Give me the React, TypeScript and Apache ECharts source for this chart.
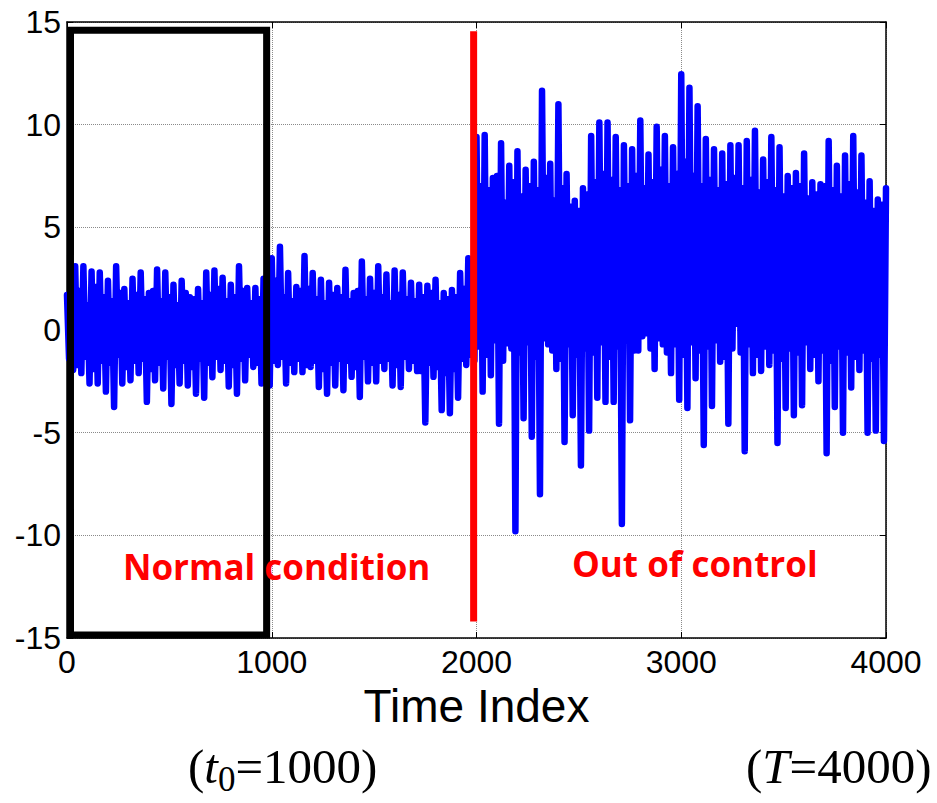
import React, { useEffect, useRef } from "react";
import * as echarts from "echarts";

// ---- Signal -----------------------------------------------------------
// Samples every 10 time units, in blocks of 40:
//   t = 40k      : outer upper excursion (highs)
//   t = 40k + 10 : inner lower value     (coreLows)
//   t = 40k + 20 : inner upper value     (coreHighs)
//   t = 40k + 30 : outer lower excursion (lows)

// Normal condition, t = 0 .. 1960
const normalHighs = [
  1.7, 3.1, 3.1, 2.85, 2.8, 2.4, 3.1, 2.0, 2.5, 2.8,
  1.8, 2.95, 2.8, 2.2, 2.4, 1.6, 2.0, 2.8, 2.9, 2.55,
  2.2, 3.1, 2.05, 2.05, 2.5, 3.5, 4.05, 2.77, 2.1, 3.6,
  2.77, 2.45, 2.3, 2.05, 2.93, 1.8, 3.33, 2.5, 3.1, 2.7,
  2.9, 2.8, 2.3, 2.2, 2.15, 2.45, 1.8, 1.95, 2.77, 3.5,
];
const normalCoreLows = [
  -1.4, -1.7, -1.3, -1.9, -1.5, -1.6, -1.2, -1.8, -1.5, -1.4,
  -1.9, -1.6, -1.3, -1.7, -1.5, -1.8, -1.4, -1.6, -1.3, -1.5,
  -1.7, -1.4, -1.2, -1.6, -1.8, -1.5, -1.3, -1.6, -1.4, -1.7,
  -1.5, -1.9, -1.6, -1.4, -1.5, -1.8, -1.3, -1.6, -1.5, -1.4,
  -1.7, -1.3, -1.5, -2.0, -1.6, -1.8, -2.1, -1.9, -1.4, -1.2,
];
const normalCoreHighs = [
  1.5, 1.9, 1.2, 2.1, 1.6, 1.4, 1.8, 1.3, 1.7, 1.5,
  1.9, 1.4, 1.6, 1.2, 1.8, 1.5, 1.3, 1.7, 2.0, 1.4,
  1.6, 1.9, 1.3, 1.5, 1.8, 2.4, 1.6, 1.4, 1.9, 2.0,
  1.5, 1.3, 1.7, 1.6, 1.4, 1.9, 1.5, 1.8, 1.6, 1.3,
  1.7, 1.5, 1.4, 1.6, 1.8, 1.3, 1.5, 1.6, 2.0, 1.8,
];
const normalLows = [
  -1.95, -2.1, -2.6, -2.6, -3.0, -3.75, -2.6, -2.45, -2.1, -3.5,
  -2.45, -2.85, -3.6, -2.6, -2.7, -3.1, -3.3, -2.3, -1.95, -2.75,
  -3.1, -2.45, -1.8, -2.6, -2.7, -1.7, -2.6, -2.05, -2.05, -1.8,
  -2.77, -3.1, -2.7, -2.93, -2.28, -3.26, -2.5, -2.5, -1.9, -2.7,
  -2.77, -1.9, -2.0, -4.5, -2.28, -3.9, -4.05, -3.3, -1.7, -1.5,
];

// Out of control, t = 2000 .. 4000
const shiftHighs = [
  9.4, 9.5, 7.4, 9.1, 8.0, 8.7, 7.8, 8.2, 11.65, 8.1,
  11.0, 7.6, 6.3, 6.9, 9.45, 10.1, 10.1, 9.4, 9.0, 8.8,
  10.2, 8.55, 9.9, 9.45, 8.9, 12.45, 11.8, 10.9, 9.3, 8.8,
  8.6, 9.0, 9.0, 9.2, 9.7, 8.3, 9.4, 8.9, 7.5, 7.65,
  8.6, 7.2, 7.1, 9.2, 8.0, 8.5, 9.45, 8.5, 7.25, 6.35,
  6.9,
];
const shiftCoreLows = [
  -0.8, -1.2, -0.5, -1.5, -0.9, -1.1, -0.6, -1.3, -0.4, -1.0,
  -1.4, -0.7, -1.2, -0.9, -1.1, -0.6, -1.3, -0.8, -0.5, -1.0,
  -0.3, -0.9, -0.4, -1.1, -0.7, -1.2, -0.6, -1.0, -0.8, -0.5,
  -1.3, -0.9, -1.1, -0.7, -1.2, -0.8, -1.0, -1.4, -0.9, -1.1,
  -0.6, -1.2, -1.0, -1.5, -0.8, -1.1, -1.3, -1.0, -1.4, -1.2,
];
const shiftCoreHighs = [
  7.0, 6.8, 7.5, 6.2, 7.2, 6.5, 7.0, 6.8, 7.4, 6.3,
  6.9, 6.0, 5.8, 6.6, 7.2, 7.6, 7.3, 6.8, 7.0, 7.5,
  6.9, 7.2, 7.8, 7.0, 7.6, 8.2, 7.5, 7.0, 7.3, 6.8,
  7.1, 7.4, 6.9, 7.3, 6.7, 7.2, 6.8, 6.5, 6.9, 7.0,
  6.4, 6.6, 7.0, 6.8, 6.5, 7.1, 6.7, 6.2, 5.8, 6.1,
];
const shiftLows = [
  -3.0, -2.2, -4.56, -0.65, -9.8, -4.3, -5.2, -8.0, -0.7, -1.9,
  -5.45, -4.15, -6.6, -4.9, -3.3, -3.5, -3.5, -9.45, -4.4, -1.0,
  -0.16, -1.9, -0.7, -2.1, -3.4, -3.8, -2.35, -5.6, -3.7, -1.55,
  -4.56, 0.3, -5.9, -2.1, -2.0, -1.7, -5.5, -3.8, -4.15, -3.66,
  -1.9, -2.5, -6.0, -3.75, -5.0, -2.8, -1.95, -5.0, -4.9, -5.4,
];

const BLOCK = 40;

// Axis ticks
const xTicks = { min: 0, max: 4000, interval: 1000 };
const yTicks = { min: -15, max: 15, interval: 5 };

// Annotations (data coordinates)
const trainingBoxT = [17, 975];
const trainingBoxV = [-14.85, 14.6];
const changePointT = 1986;
const changeLineV = [-14.2, 14.55];

function buildSignal(): [number, number][] {
  const highs = [...normalHighs, ...shiftHighs];
  const coreLows = [...normalCoreLows, ...shiftCoreLows];
  const coreHighs = [...normalCoreHighs, ...shiftCoreHighs];
  const lows = [...normalLows, ...shiftLows];
  const q = BLOCK / 4;
  const pts: [number, number][] = [];
  for (let k = 0; k < highs.length; k++) {
    const t0 = k * BLOCK;
    pts.push([t0, highs[k]]);
    if (k < lows.length) {
      pts.push([t0 + q, coreLows[k]]);
      pts.push([t0 + 2 * q, coreHighs[k]]);
      pts.push([t0 + 3 * q, lows[k]]);
    }
  }
  return pts;
}

const SANS = "Liberation Sans, Arial, sans-serif";
const SERIF = "Liberation Serif, Times New Roman, serif";

export default function App() {
  const ref = useRef<HTMLDivElement | null>(null);

  useEffect(() => {
    if (!ref.current) return;
    const chart = echarts.init(ref.current, undefined, { renderer: "svg" });

    const boxPath: [number, number][] = [
      [trainingBoxT[0], trainingBoxV[1]],
      [trainingBoxT[1], trainingBoxV[1]],
      [trainingBoxT[1], trainingBoxV[0]],
      [trainingBoxT[0], trainingBoxV[0]],
      [trainingBoxT[0], trainingBoxV[1]],
    ];
    const redLine: [number, number][] = [
      [changePointT, changeLineV[1]],
      [changePointT, changeLineV[0]],
    ];

    const axisLine = { show: true, onZero: false, lineStyle: { color: "#000", width: 1.5 } };
    const axisTick = { show: true, inside: true, length: 6, lineStyle: { color: "#000", width: 1 } };
    const splitLine = { show: true, lineStyle: { color: "#8a8a8a", type: "dotted" as const, width: 1 } };
    const plain = (v: number) => String(v);

    const serifMain = { fontSize: 49, lineHeight: 60, fontFamily: SERIF, fill: "#000", verticalAlign: "top" };

    const option: any = {
      animation: false,
      grid: { left: 67, right: 51, top: 22, bottom: 165, containLabel: false },
      xAxis: [
        {
          type: "value",
          ...xTicks,
          position: "bottom",
          axisLine,
          axisTick,
          splitLine,
          axisLabel: { color: "#000", fontSize: 32, fontFamily: SANS, margin: 8, formatter: plain },
          name: "Time Index",
          nameLocation: "middle",
          nameGap: 44,
          nameTextStyle: { color: "#000", fontSize: 46, fontFamily: SANS },
        },
        {
          type: "value",
          ...xTicks,
          position: "top",
          axisLine,
          axisTick,
          splitLine: { show: false },
          axisLabel: { show: false },
        },
      ],
      yAxis: [
        {
          type: "value",
          ...yTicks,
          position: "left",
          axisLine,
          axisTick,
          splitLine,
          axisLabel: { color: "#000", fontSize: 32, fontFamily: SANS, margin: 6, formatter: plain },
        },
        {
          type: "value",
          ...yTicks,
          position: "right",
          axisLine,
          axisTick,
          splitLine: { show: false },
          axisLabel: { show: false },
        },
      ],
      series: [
        {
          type: "line",
          data: buildSignal(),
          symbol: "none",
          showSymbol: false,
          silent: true,
          z: 2,
          lineStyle: { color: "#0000ff", width: 6.5, join: "round", cap: "round" },
        },
        {
          type: "line",
          data: redLine,
          symbol: "none",
          silent: true,
          z: 3,
          lineStyle: { color: "#ff0000", width: 7 },
        },
        {
          type: "line",
          data: boxPath,
          symbol: "none",
          silent: true,
          z: 4,
          lineStyle: { color: "#000000", width: 7, join: "miter", cap: "square" },
        },
      ],
      graphic: [
        {
          type: "text",
          x: 123,
          y: 566,
          z: 10,
          style: {
            text: "Normal condition",
            fill: "#ff0000",
            fontSize: 35,
            fontWeight: "bold",
            fontFamily: "Open Sans",
            verticalAlign: "middle",
            align: "left",
          },
        },
        {
          type: "text",
          x: 572,
          y: 563,
          z: 10,
          style: {
            text: "Out of control",
            fill: "#ff0000",
            fontSize: 35,
            fontWeight: "bold",
            fontFamily: "Open Sans",
            verticalAlign: "middle",
            align: "left",
          },
        },
        {
          type: "text",
          x: 188,
          y: 742,
          style: {
            text: "{p|(}{i|t}{s|0}{p|=1000)}",
            verticalAlign: "top",
            align: "left",
            fill: "#000",
            rich: {
              p: { ...serifMain },
              i: { ...serifMain, fontStyle: "italic" },
              s: { fontSize: 35, lineHeight: 40, fontFamily: SERIF, fill: "#000", verticalAlign: "top", padding: [20, 0, 0, 0] },
            },
          },
        },
        {
          type: "text",
          x: 746,
          y: 742,
          style: {
            text: "{p|(}{i|T}{p|=4000)}",
            verticalAlign: "top",
            align: "left",
            fill: "#000",
            rich: {
              p: { ...serifMain },
              i: { ...serifMain, fontStyle: "italic" },
            },
          },
        },
      ],
    };

    chart.setOption(option);
    return () => chart.dispose();
  }, []);

  return (
    <div
      ref={ref}
      style={{ position: "fixed", left: 0, top: 0, width: 937, height: 803, background: "#fff" }}
    />
  );
}
